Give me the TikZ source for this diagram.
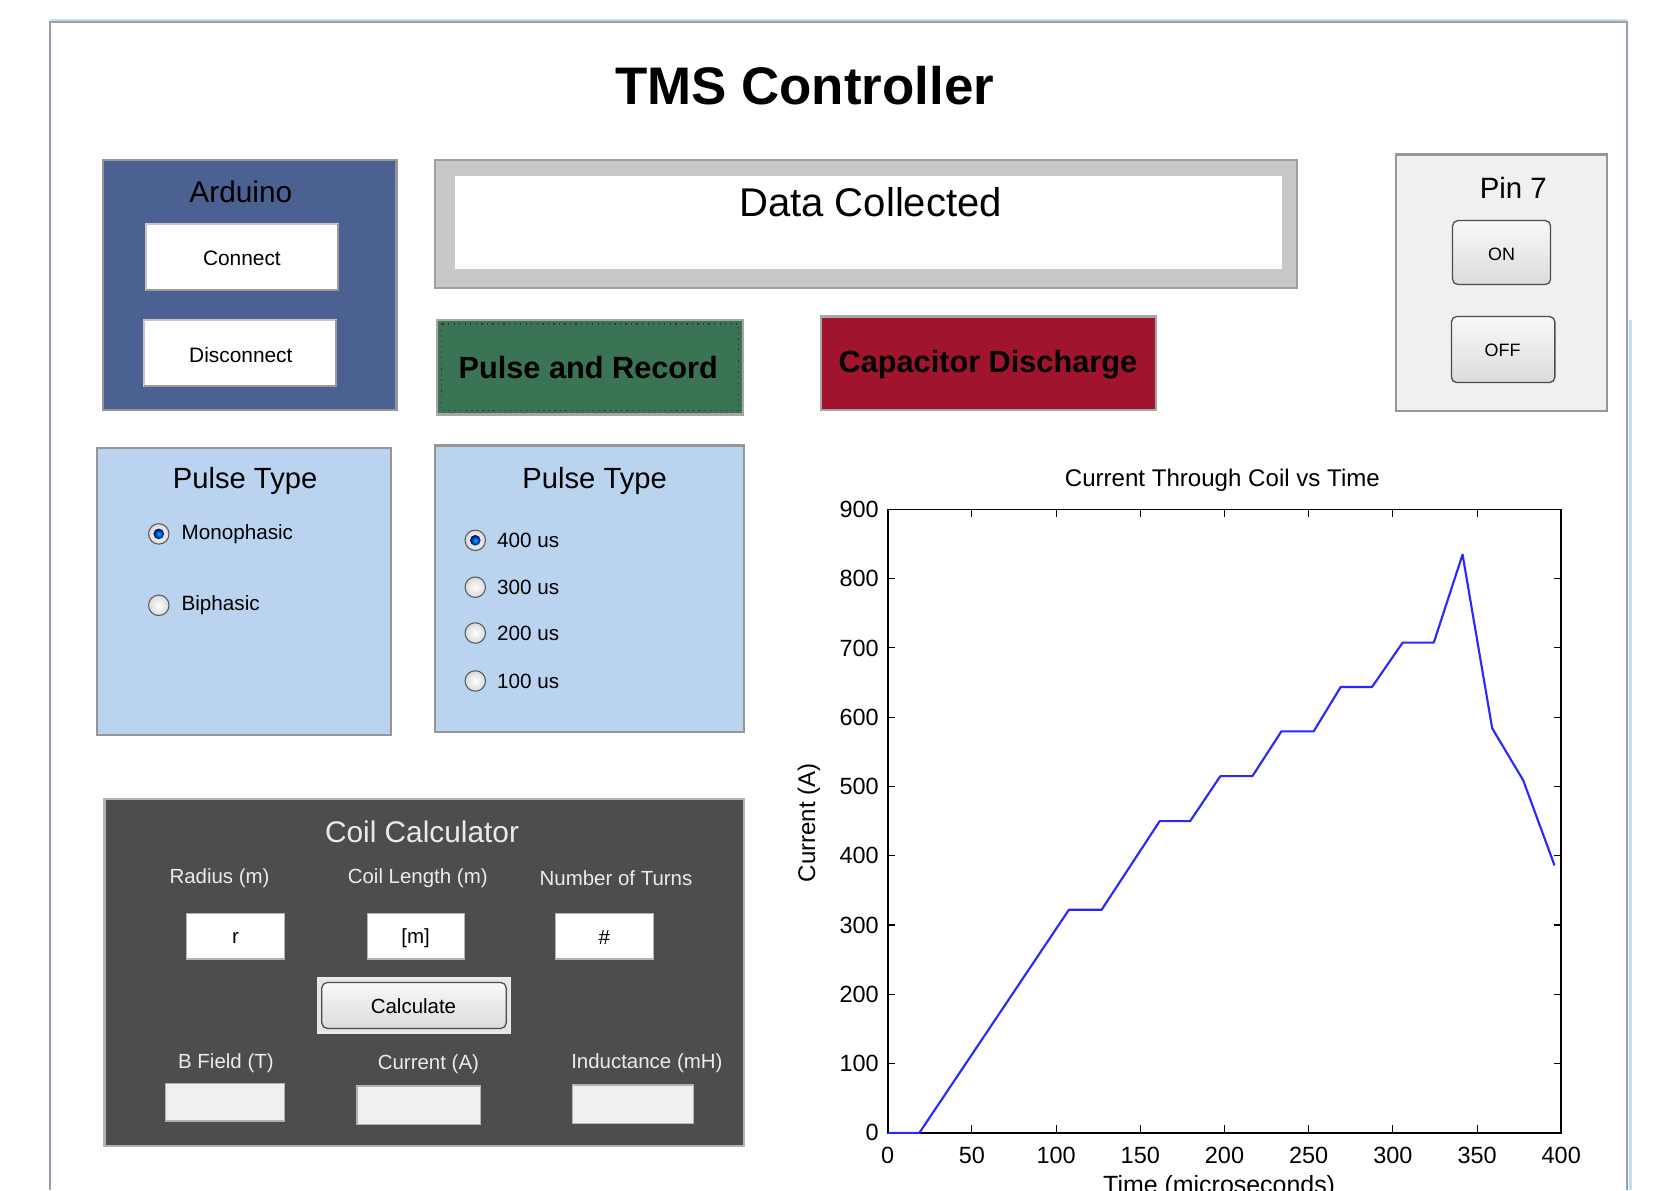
\documentclass[tikz,border=0pt]{standalone}
\usepackage{fontspec}
\setmainfont{Liberation Sans}
\newcommand{\myfs}[1]{\fontsize{#1}{#1}\selectfont}
\definecolor{arduinoblue}{RGB}{74,97,145}
\definecolor{pulsegreen}{RGB}{59,116,85}
\definecolor{capred}{RGB}{160,20,46}
\definecolor{lightblue}{RGB}{186,212,240}
\definecolor{darkpanel}{RGB}{77,77,77}
\definecolor{pingray}{RGB}{240,240,240}
\definecolor{framegray}{RGB}{200,200,200}
\definecolor{edgegray}{RGB}{150,150,150}
\definecolor{winedge}{RGB}{150,160,175}
\definecolor{winblue}{RGB}{200,220,240}
\definecolor{plotblue}{RGB}{40,40,255}
\definecolor{coiltext}{RGB}{235,235,235}
\begin{document}
\begin{tikzpicture}[x=0.5pt,y=-0.5pt,
  lbl/.style={inner sep=0pt,text=black},
  panelbox/.style={draw=edgegray,line width=1pt},
  whitebtn/.style={fill=white,draw=gray!45,line width=0.8pt},
  shadowline/.style={draw=gray!80,line width=1pt},
  greybtn/.style={draw=gray!60!black,line width=0.6pt,rounded corners=2.5pt,top color=gray!5,bottom color=gray!28},
  inbox/.style={fill=white,draw=gray!60,line width=0.6pt},
  outbox/.style={fill=pingray,draw=gray!60,line width=0.6pt},
  radiooff/.style={draw=gray!70!black,line width=0.5pt,inner color=white,outer color=gray!30},
  radiodot/.style={inner color=cyan!70!blue,outer color=blue!45!black},
  ticklbl/.style={inner sep=0pt,text=black,font=\myfs{11}},
  coillbl/.style={inner sep=0pt,text=coiltext,font=\myfs{9.6}}
]
\useasboundingbox (0,0) rectangle (1568,1117);
\fill[white] (0,0) rectangle (1568,1117);

% window frame
\draw[winblue,line width=1.2pt] (47,19) -- (1527,19);
\draw[winedge,line width=1pt] (47,1117) -- (47,21) -- (1527,21) -- (1527,1117);
\draw[winblue,line width=1pt] (1530,300) -- (1530,1117);

% title
\node[lbl] (title) at (755,80) {\myfs{24.8}\bfseries TMS Controller};

% Arduino panel
\path[panelbox,fill=arduinoblue] (97,150) rectangle (372,385);
\node[lbl] (ardtitle) at (226,180) {\myfs{14}Arduino};
\path[whitebtn] (137,210) rectangle (317,272);
\draw[shadowline] (137,272) -- (317,272) -- (317,210);
\node[lbl] (connect) at (227,242) {\myfs{9.8}Connect};
\path[whitebtn] (135,300) rectangle (315,362);
\draw[shadowline] (135,362) -- (315,362) -- (315,300);
\node[lbl] (disconnect) at (226,333) {\myfs{9.8}Disconnect};

% Data Collected
\path[fill=framegray,draw=gray!75,line width=1pt] (408,150) rectangle (1217,270);
\fill[white] (427,165) rectangle (1203,252);
\node[lbl] (datacol) at (817,190) {\myfs{18.8}Data Collected};

% Pulse and Record
\path[fill=pulsegreen,draw=gray!70,line width=1pt] (410,300) rectangle (697,389);
\draw[black!80,dotted,line width=0.6pt] (414,304) rectangle (693,385);
\node[lbl] (pulserec) at (552,345) {\myfs{14.4}\bfseries Pulse and Record};

% Capacitor Discharge
\path[fill=capred,draw=gray!70,line width=1pt] (770,297) rectangle (1085,385);
\node[lbl] (capdis) at (927,342) {\myfs{14.4}\bfseries Capacitor Discharge};

% Pin 7 panel
\path[panelbox,fill=pingray] (1310,145) rectangle (1508,386);
\node[lbl] (pintitle) at (1420,176) {\myfs{13.8}Pin 7};
\path[greybtn] (1363,207) rectangle (1455,267);
\node[lbl] (onbtn) at (1409,239) {\myfs{8.4}ON};
\path[greybtn] (1362,297) rectangle (1459,359);
\node[lbl] (offbtn) at (1410,329) {\myfs{8.4}OFF};

% Pulse Type panel 1
\path[panelbox,fill=lightblue] (91,420) rectangle (367,690);
\node[lbl] (pt1title) at (230,451) {\myfs{13.7}Pulse Type};
\shadedraw[radiooff] (149,501) circle[radius=4.8pt];
\shade[radiodot] (149,501) circle[radius=2.5pt];
\node[lbl,anchor=west] (mono) at (170,501) {\myfs{9.7}Monophasic};
\shadedraw[radiooff] (149,568) circle[radius=4.8pt];
\node[lbl,anchor=west] (bi) at (170,568) {\myfs{9.7}Biphasic};

% Pulse Type panel 2
\path[panelbox,fill=lightblue] (408,418) rectangle (698,687);
\node[lbl] (pt2title) at (558,451) {\myfs{13.7}Pulse Type};
\shadedraw[radiooff] (446,507) circle[radius=4.8pt];
\shade[radiodot] (446,507) circle[radius=2.5pt];
\node[lbl,anchor=west] (us400) at (466,507) {\myfs{9.7}400 us};
\shadedraw[radiooff] (446,551) circle[radius=4.8pt];
\node[lbl,anchor=west] (us300) at (466,551) {\myfs{9.7}300 us};
\shadedraw[radiooff] (446,594) circle[radius=4.8pt];
\node[lbl,anchor=west] (us200) at (466,594) {\myfs{9.7}200 us};
\shadedraw[radiooff] (446,639) circle[radius=4.8pt];
\node[lbl,anchor=west] (us100) at (466,639) {\myfs{9.7}100 us};

% Coil Calculator
\path[fill=darkpanel,draw=gray!60,line width=1pt] (98,750) rectangle (698,1075);
\node[lbl,text=coiltext] (coiltitle) at (396,781) {\myfs{14}Coil Calculator};
\node[coillbl] (radlbl) at (206,824) {Radius (m)};
\node[coillbl] (lenlbl) at (392,824) {Coil Length (m)};
\node[coillbl] (turnlbl) at (578,824) {Number of Turns};
\path[inbox] (175,857) rectangle (267,900);
\node[lbl] (rin) at (221,880) {\myfs{9.6}r};
\path[inbox] (345,857) rectangle (436,900);
\node[lbl] (min) at (390,880) {\myfs{9.6}[m]};
\path[inbox] (521,857) rectangle (613,900);
\node[lbl] (nin) at (567,880) {\myfs{9.6}\#};
\path[fill=gray!20,draw=white!85!gray,line width=0.8pt] (298,918) rectangle (479,969);
\path[greybtn] (302,922) rectangle (475,965);
\node[lbl] (calc) at (388,944) {\myfs{9.6}Calculate};
\node[coillbl] (blbl) at (212,998) {B Field (T)};
\node[coillbl] (clbl) at (402,999) {Current (A)};
\node[coillbl] (ilbl) at (607,998) {Inductance (mH)};
\path[outbox] (155,1017) rectangle (267,1052);
\path[outbox] (335,1019) rectangle (451,1055);
\path[outbox] (537,1018) rectangle (651,1054);

% Plot
\node[lbl] (ptitle) at (1147,451) {\myfs{11.3}Current Through Coil vs Time};
\draw[black,line width=0.8pt] (833,478) rectangle (1465,1063);
\foreach \k in {0,...,9} {
  \pgfmathsetmacro{\yy}{1063-65*\k}
  \draw[black,line width=0.5pt] (833,\yy) -- (840,\yy);
  \draw[black,line width=0.5pt] (1465,\yy) -- (1458,\yy);
  \pgfmathtruncatemacro{\val}{100*\k}
  \node[ticklbl,anchor=east] (ylab\k) at (825,\yy) {\val};
}
\foreach \k in {0,...,8} {
  \pgfmathsetmacro{\xx}{833+79*\k}
  \draw[black,line width=0.5pt] (\xx,1063) -- (\xx,1056);
  \draw[black,line width=0.5pt] (\xx,478) -- (\xx,485);
  \pgfmathtruncatemacro{\val}{50*\k}
  \node[ticklbl] (xlab\k) at (\xx,1084) {\val};
}
\draw[plotblue,line width=1pt,line join=round] (833,1063) -- (862.7,1063) -- (1003.0,853.7) -- (1033.7,853.7)
  -- (1088.2,770.5) -- (1116.8,770.5) -- (1145.1,728.3) -- (1175.2,728.3)
  -- (1202.4,686.3) -- (1232.7,686.3) -- (1258.0,644.7) -- (1287.4,644.7)
  -- (1316.2,603.0) -- (1345.4,603.0) -- (1372.4,520.3) -- (1400.2,683.4)
  -- (1429.3,732.2) -- (1458.7,812.1);
\node[lbl,rotate=90] (ylabel) at (759,772) {\myfs{11.3}Current (A)};
\node[lbl,anchor=north] (xlabel) at (1144,1103) {\myfs{11.7}Time (microseconds)};
\end{tikzpicture}
\end{document}
